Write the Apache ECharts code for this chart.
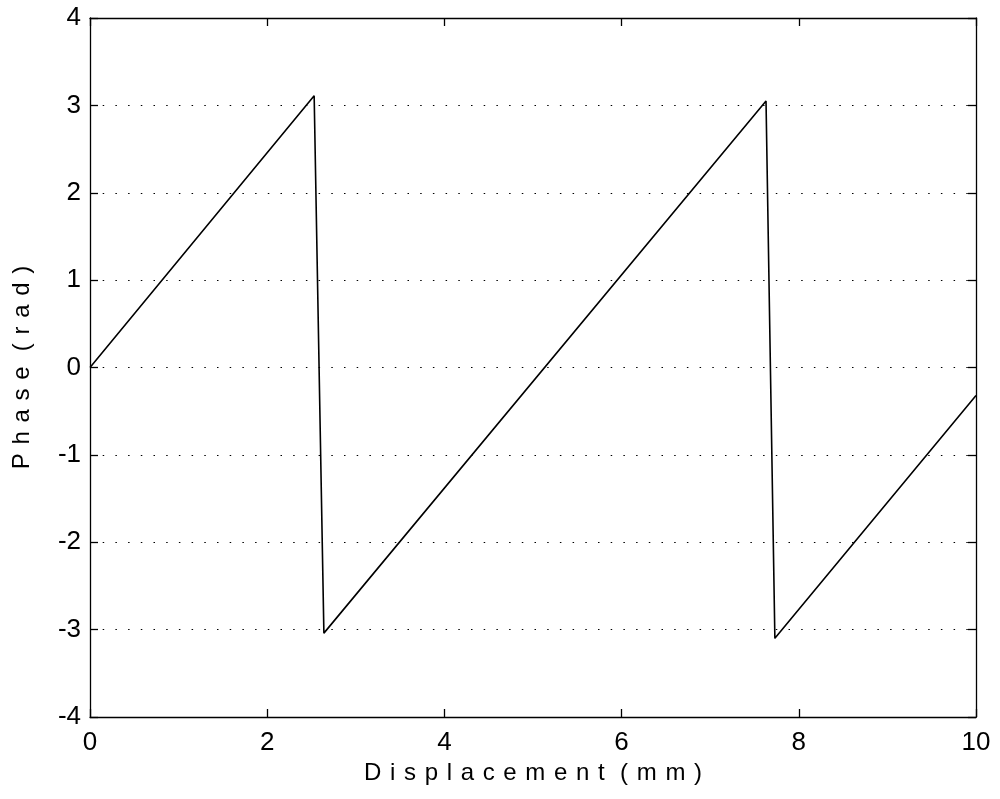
<!DOCTYPE html>
<html>
<head>
<meta charset="utf-8">
<script src="https://cdn.jsdelivr.net/npm/echarts@6/dist/echarts.min.js"></script>
<style>html,body{margin:0;padding:0;background:#fff;}#c{width:1000px;height:799px;}</style>
</head>
<body>
<div id="c"></div>
<script>
const displacement = [0, 2.53, 2.64, 7.63, 7.73, 10];
const phase = [0, 3.11, -3.04, 3.05, -3.10, -0.32];
const xTicks = [0, 2, 4, 6, 8, 10];
const yTicks = [-4, -3, -2, -1, 0, 1, 2, 3, 4];
const xTitleText = 'Displacement (mm)';
const yTitleText = 'Phase (rad)';
const spaced = s => s.split(' ').map(w => w.split('').join(' \u200A')).join('  \u200A');

const font = 'Liberation Sans, Arial, sans-serif';
const chart = echarts.init(document.getElementById('c'));
const lineStyle = {color: '#000', width: 1.3};
const axisLine = {show: true, onZero: false, lineStyle: lineStyle};
const tick = {show: true, inside: true, length: 8, lineStyle: lineStyle};
chart.setOption({
  animation: false,
  backgroundColor: '#fff',
  grid: {left: 90, right: 24, top: 18, bottom: 82},
  xAxis: [{
    type: 'value', min: 0, max: 10, interval: 2, position: 'bottom',
    name: spaced(xTitleText), nameLocation: 'middle', nameGap: 44,
    nameTextStyle: {color: '#000', fontSize: 24, fontFamily: font},
    axisLine: axisLine, axisTick: tick,
    axisLabel: {color: '#000', fontSize: 26, fontFamily: font, margin: 13, formatter: v => xTicks.includes(v) ? String(v) : ''},
    splitLine: {show: false}
  }, {
    type: 'value', min: 0, max: 10, interval: 2, position: 'top',
    axisLine: axisLine, axisTick: tick,
    axisLabel: {show: false}, splitLine: {show: false}
  }],
  yAxis: [{
    type: 'value', min: -4, max: 4, interval: 1, position: 'left',
    name: spaced(yTitleText), nameLocation: 'middle', nameGap: 56, nameRotate: 90,
    nameTextStyle: {color: '#000', fontSize: 24, fontFamily: font},
    axisLine: axisLine, axisTick: tick,
    axisLabel: {color: '#000', fontSize: 26, fontFamily: font, margin: 9, formatter: v => yTicks.includes(v) ? String(v) : ''},
    splitLine: {show: true, lineStyle: {color: '#000', width: 1, type: [1.5, 11.2]}}
  }, {
    type: 'value', min: -4, max: 4, interval: 1, position: 'right',
    axisLine: axisLine, axisTick: tick,
    axisLabel: {show: false}, splitLine: {show: false}
  }],
  series: [{
    type: 'line',
    data: displacement.map((x, i) => [x, phase[i]]),
    showSymbol: false,
    lineStyle: {color: '#000', width: 1.6},
    clip: true
  }]
});
</script>
</body>
</html>
